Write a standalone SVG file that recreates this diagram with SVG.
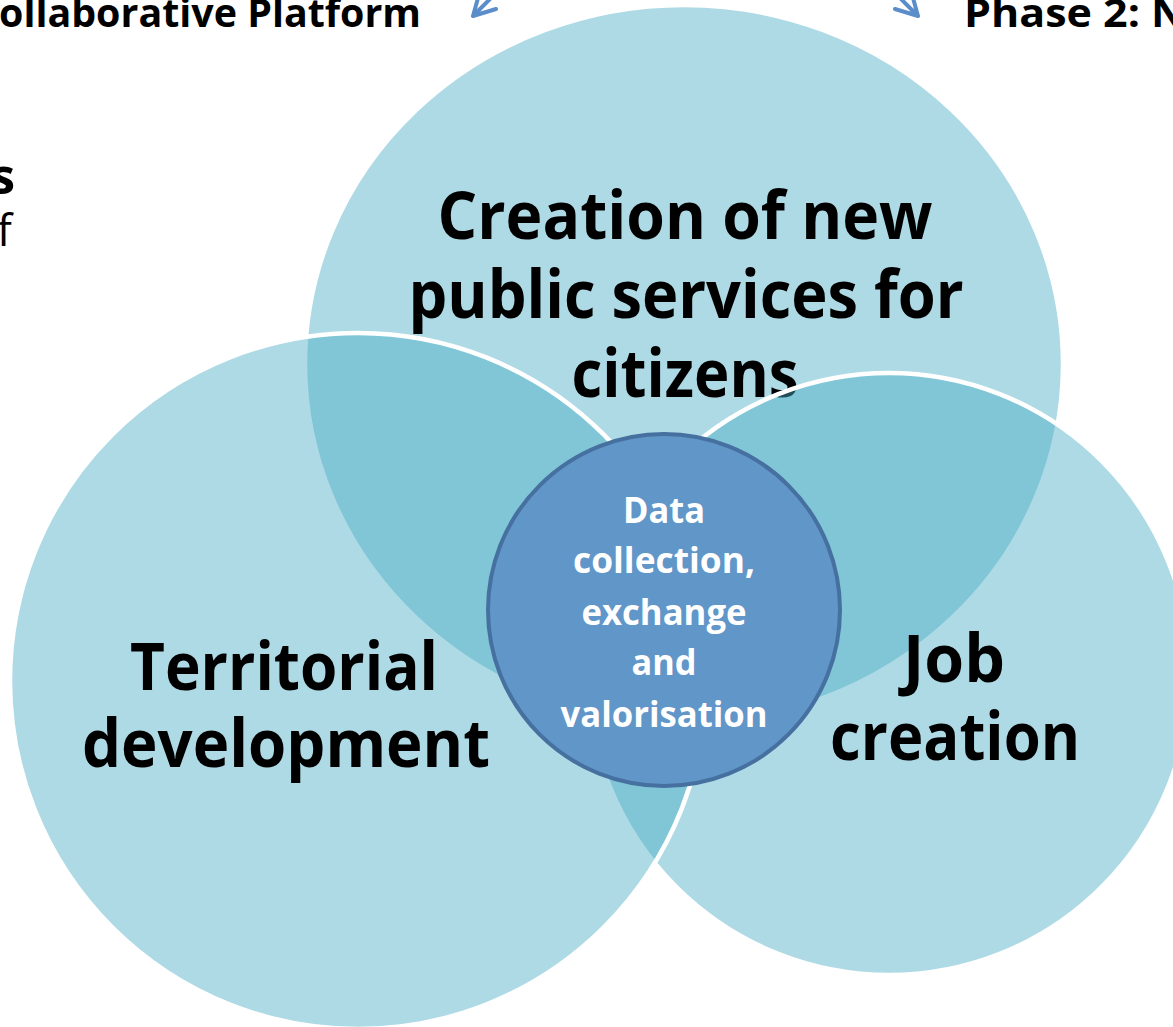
<svg xmlns="http://www.w3.org/2000/svg" width="1173" height="1027" viewBox="0 0 1173 1027">
<style>
.venn{fill:#4BACC6;fill-opacity:0.45;stroke:#FFFFFF;stroke-width:4.5}
.big{font-family:"Open Sans","Liberation Sans",sans-serif;font-weight:bold;font-size:67px;fill:#000000;text-anchor:middle}
.mid{font-family:"Open Sans","Liberation Sans",sans-serif;font-weight:bold;font-size:35px;fill:#FFFFFF;text-anchor:middle}
.hdr{font-family:"Open Sans","Liberation Sans",sans-serif;font-weight:bold;font-size:40px;fill:#000000}
.arrow{fill:none;stroke:#5B8DCB;stroke-width:4;stroke-linecap:round;stroke-linejoin:round}
</style>
<rect width="1173" height="1027" fill="#FFFFFF"/>
<g id="background-text">
<text class="hdr" x="-1" y="27" textLength="422" lengthAdjust="spacingAndGlyphs">ollaborative Platform</text>
<text class="hdr" x="964" y="27" textLength="222" lengthAdjust="spacingAndGlyphs">Phase 2: N</text>
<text x="15" y="194" font-family="Open Sans, Liberation Sans, sans-serif" font-weight="bold" font-size="50" text-anchor="end">s</text>
<text x="-3" y="246" font-family="Open Sans, Liberation Sans, sans-serif" font-size="44">f</text>
</g>
<g id="connectors">
<path class="arrow" d="M492,-3 L473,16 M478,-2 L473,16 L496,9"/>
<path class="arrow" d="M899,-3 L918,16 M913,-2 L918,16 L895,9"/>
</g>
<g id="node-public-services">
<ellipse class="venn" cx="684" cy="364" rx="379" ry="359"/>
<text class="big" x="685" y="239" textLength="495" lengthAdjust="spacingAndGlyphs">Creation of new</text>
<text class="big" x="686" y="318" textLength="555" lengthAdjust="spacingAndGlyphs">public services for</text>
<text class="big" x="685" y="397" textLength="227" lengthAdjust="spacingAndGlyphs">citizens</text>
</g>
<g id="node-job-creation">
<circle class="venn" cx="889" cy="674" r="301"/>
<text class="big" x="954" y="682" textLength="102" lengthAdjust="spacingAndGlyphs">Job</text>
<text class="big" x="955" y="760" textLength="250" lengthAdjust="spacingAndGlyphs">creation</text>
</g>
<g id="node-territorial">
<circle class="venn" cx="358" cy="681" r="348"/>
<text class="big" x="284" y="690" textLength="308" lengthAdjust="spacingAndGlyphs">Territorial</text>
<text class="big" x="286" y="767" textLength="408" lengthAdjust="spacingAndGlyphs">development</text>
</g>
<g id="node-data">
<circle cx="664" cy="610" r="176" fill="#6196C9" stroke="#46709F" stroke-width="4"/>
<text class="mid" x="664" y="523" textLength="82" lengthAdjust="spacingAndGlyphs">Data</text>
<text class="mid" x="664" y="573" textLength="182" lengthAdjust="spacingAndGlyphs">collection,</text>
<text class="mid" x="664" y="625" textLength="165" lengthAdjust="spacingAndGlyphs">exchange</text>
<text class="mid" x="664" y="675" textLength="65" lengthAdjust="spacingAndGlyphs">and</text>
<text class="mid" x="664" y="727" textLength="207" lengthAdjust="spacingAndGlyphs">valorisation</text>
</g>
</svg>
